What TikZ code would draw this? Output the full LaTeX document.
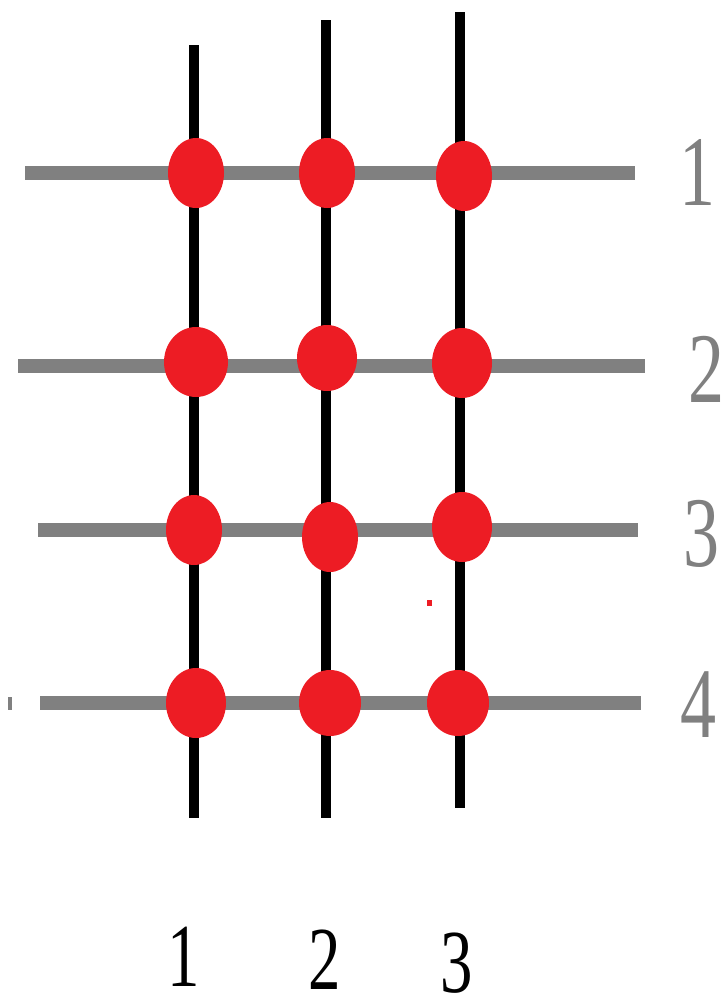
\documentclass[tikz,border=0pt]{standalone}
\usepackage{fontspec}
\setmainfont{Liberation Serif}
\definecolor{lgray}{RGB}{128,128,128}
\definecolor{dotred}{RGB}{237,28,36}
\usetikzlibrary{shapes.geometric}
\newcommand{\narrow}[1]{\scalebox{0.72}[1]{#1}}
\tikzset{
  vline/.style={line width=10pt, black},
  hline/.style={line width=14pt, lgray},
  gdot/.style={ellipse, fill=dotred, minimum width=56pt, minimum height=70pt, inner sep=0pt},
  rlab/.style={text=lgray, font=\fontsize{100}{100}\selectfont, inner sep=0pt},
  blab/.style={text=black, font=\fontsize{90}{90}\selectfont, inner sep=0pt}
}
\begin{document}
\begin{tikzpicture}[x=1pt,y=-1pt]
\useasboundingbox (0,0) rectangle (723,1002);
% vertical lines
\coordinate (v1t) at (194,45);  \coordinate (v1b) at (194,818);
\coordinate (v2t) at (326,20);  \coordinate (v2b) at (326,818);
\coordinate (v3t) at (460,12);  \coordinate (v3b) at (460,808);
% horizontal lines
\coordinate (h1l) at (25,173);  \coordinate (h1r) at (635,173);
\coordinate (h2l) at (18,366);  \coordinate (h2r) at (645,366);
\coordinate (h3l) at (38,530);  \coordinate (h3r) at (638,530);
\coordinate (h4l) at (40,703);  \coordinate (h4r) at (641,703);
\draw[hline] (h1l) -- (h1r);
\draw[hline] (h2l) -- (h2r);
\draw[hline] (h3l) -- (h3r);
\draw[hline] (h4l) -- (h4r);
\draw[vline] (v1t) -- (v1b);
\draw[vline] (v2t) -- (v2b);
\draw[vline] (v3t) -- (v3b);
% small marks
\fill[lgray] (8,697) rectangle (12,710);
\fill[dotred] (427,600) rectangle (432,606);
% dots
\node[gdot] (d11) at (196,173) {};
\node[gdot] (d21) at (327,173) {};
\node[gdot] (d31) at (464,176) {};
\node[gdot, minimum width=64pt] (d12) at (196,362) {};
\node[gdot, minimum width=60pt, minimum height=66pt] (d22) at (327,358) {};
\node[gdot, minimum width=60pt] (d32) at (462,363) {};
\node[gdot] (d13) at (194,530) {};
\node[gdot] (d23) at (330,537) {};
\node[gdot, minimum width=60pt] (d33) at (462,527) {};
\node[gdot, minimum width=60pt] (d14) at (196,703) {};
\node[gdot, minimum width=62pt, minimum height=66pt] (d24) at (330,703) {};
\node[gdot, minimum width=62pt, minimum height=66pt] (d34) at (458,703) {};
% labels
\node[rlab] (r1) at (697,172) {\narrow{1}};
\node[rlab] (r2) at (706,369) {\narrow{2}};
\node[rlab] (r3) at (701,534) {\narrow{3}};
\node[rlab] (r4) at (698,705) {\narrow{4}};
\node[blab] (b1) at (184,957) {\narrow{1}};
\node[blab] (b2) at (325,960) {\narrow{2}};
\node[blab] (b3) at (457,963) {\narrow{3}};
\end{tikzpicture}
\end{document}
